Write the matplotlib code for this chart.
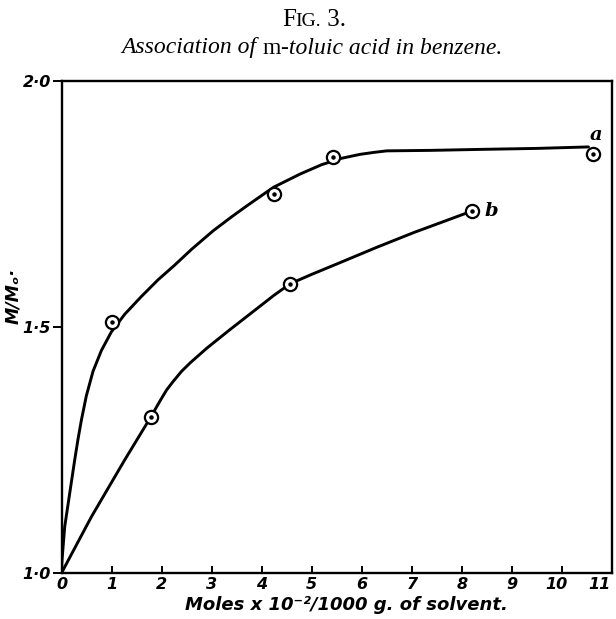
import matplotlib
matplotlib.use('Agg')
import matplotlib.pyplot as plt
from matplotlib.offsetbox import TextArea, HPacker, AnchoredOffsetbox
from matplotlib.transforms import ScaledTranslation

# ---- data ----
# measured points (circles)
a_pts_x = [1.0, 4.25, 5.43, 10.62]
a_pts_y = [1.51, 1.77, 1.845, 1.851]
b_pts_x = [1.79, 4.57, 8.21]
b_pts_y = [1.318, 1.588, 1.736]

# hand-drawn curves
curve_a_x = [0.0, 0.01, 0.064, 0.164, 0.264, 0.33, 0.396, 0.496, 0.63, 0.796,
             0.996, 1.264, 1.596, 1.93, 2.264, 2.6, 3.036, 3.40, 3.70, 4.236,
             4.77, 5.2, 5.6, 5.97, 6.25, 6.50, 7.37, 8.37, 9.5, 10.53]
curve_a_y = [1.0, 1.026, 1.094, 1.162, 1.230, 1.272, 1.310, 1.360, 1.410, 1.452,
             1.490, 1.526, 1.562, 1.596, 1.626, 1.658, 1.696, 1.724, 1.746, 1.784,
             1.811, 1.830, 1.843, 1.851, 1.855, 1.858, 1.859, 1.861, 1.863, 1.866]
curve_b_x = [0.0, 0.596, 1.264, 1.79, 1.97, 2.1, 2.236, 2.4, 2.57, 2.904,
             3.37, 3.90, 4.24, 4.57, 5.0, 5.57, 6.3, 7.04, 7.6, 8.21]
curve_b_y = [1.0, 1.114, 1.230, 1.318, 1.350, 1.372, 1.390, 1.410, 1.427, 1.457,
             1.495, 1.537, 1.564, 1.588, 1.607, 1.631, 1.662, 1.692, 1.713, 1.736]

x_ticks = list(range(0, 12))
x_tick_labels = [str(v) for v in x_ticks]
y_ticks = [1.0, 1.5, 2.0]
y_tick_labels = ['1·0', '1·5', '2·0']

W, H = 616, 619
fig = plt.figure(figsize=(W / 100, H / 100), dpi=100)
x0, x1, y0, y1 = 61.5, 612, 81, 573
ax = fig.add_axes([x0 / W, 1 - y1 / H, (x1 - x0) / W, (y1 - y0) / H])
ax.set_xlim(0, 11)
ax.set_ylim(1.0, 2.0)

lw = 2.1
ax.plot(curve_a_x, curve_a_y, color='black', lw=lw, solid_capstyle='round',
        solid_joinstyle='round', zorder=2)
ax.plot(curve_b_x, curve_b_y, color='black', lw=lw, solid_capstyle='round',
        solid_joinstyle='round', zorder=2)

for xs, ys in ((a_pts_x, a_pts_y), (b_pts_x, b_pts_y)):
    ax.plot(xs, ys, linestyle='none', marker='o', ms=9.5, mfc='white', mec='black',
            mew=1.6, zorder=3, clip_on=False)
    ax.plot(xs, ys, linestyle='none', marker='o', ms=2.2, mfc='black', mec='black',
            zorder=4, clip_on=False)

ax.text(10.55, 1.872, 'a', fontfamily='DejaVu Serif', fontstyle='italic',
        fontweight='bold', fontsize=14, ha='left', va='bottom')
ax.text(8.45, 1.736, 'b', fontfamily='DejaVu Serif', fontstyle='italic',
        fontweight='bold', fontsize=14, ha='left', va='center')

for s in ax.spines.values():
    s.set_linewidth(1.7)

tick_font = dict(family='DejaVu Sans', style='italic', weight='bold')
ax.set_xticks(x_ticks)
ax.set_xticklabels(x_tick_labels, fontsize=11.5, **tick_font)
ax.set_yticks(y_ticks)
ax.set_yticklabels(y_tick_labels, fontsize=11.5, **tick_font)
ax.tick_params(axis='x', direction='in', length=5, width=1.4, pad=3)
ax.tick_params(axis='y', direction='out', length=6.5, width=1.4, pad=1)

# the last x labels sit a little left of their ticks, as in the original
xlabels = ax.get_xticklabels()
xlabels[-1].set_horizontalalignment('right')
xlabels[-1].set_transform(xlabels[-1].get_transform() + ScaledTranslation(-1 / 72, 0, fig.dpi_scale_trans))
xlabels[-2].set_transform(xlabels[-2].get_transform() + ScaledTranslation(-4 / 72, 0, fig.dpi_scale_trans))

ax.set_xlabel('Moles x 10⁻²/1000 g. of solvent.', fontsize=13, **tick_font)
ax.xaxis.set_label_coords(0.517, -0.047)
ax.set_ylabel('M/Mₒ·', fontsize=12.5, **tick_font)
ax.yaxis.set_label_coords(-0.072, 0.563)

# title: FIG. 3. (small caps)
serif = 'Liberation Serif'
t1 = HPacker(children=[TextArea('F', textprops=dict(family=serif, size=18)),
                       TextArea('IG.', textprops=dict(family=serif, size=14)),
                       TextArea(' 3.', textprops=dict(family=serif, size=18))],
             align='baseline', pad=0, sep=0)
ab1 = AnchoredOffsetbox(loc='center', child=t1, frameon=False,
                        bbox_to_anchor=(314 / W, 1 - 20 / H),
                        bbox_transform=fig.transFigure, borderpad=0, pad=0)
fig.add_artist(ab1)

sub = dict(family=serif, size=17)
t2 = HPacker(children=[TextArea('Association of ', textprops=dict(sub, style='italic')),
                       TextArea('m', textprops=sub),
                       TextArea('-toluic acid in benzene.', textprops=dict(sub, style='italic'))],
             align='baseline', pad=0, sep=0)
ab2 = AnchoredOffsetbox(loc='center', child=t2, frameon=False,
                        bbox_to_anchor=(312 / W, 1 - 48 / H),
                        bbox_transform=fig.transFigure, borderpad=0, pad=0)
fig.add_artist(ab2)

fig.savefig('out.png', dpi=100)
